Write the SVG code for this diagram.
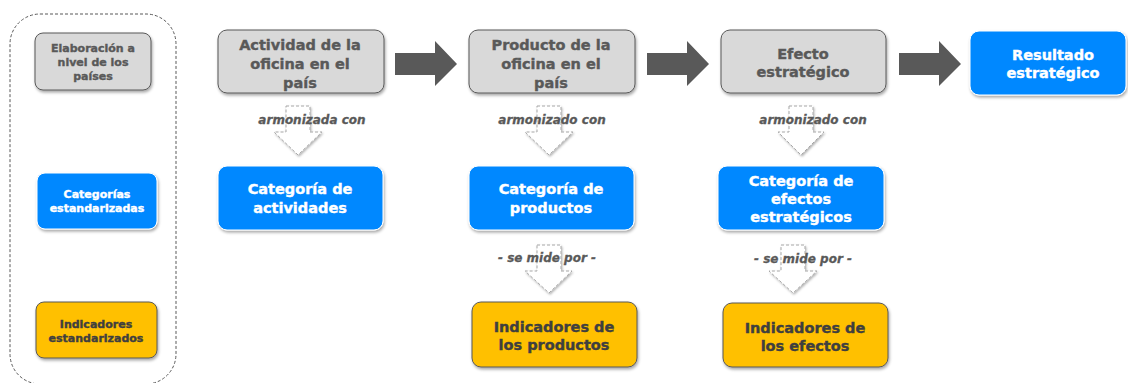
<svg xmlns="http://www.w3.org/2000/svg" width="1128" height="383" viewBox="0 0 1128 383">
<defs>
<filter id="sh" x="-10%" y="-10%" width="130%" height="140%">
<feDropShadow dx="1" dy="2" stdDeviation="1.5" flood-color="#000" flood-opacity="0.35"/>
</filter>
<filter id="sh2" x="-20%" y="-20%" width="150%" height="150%">
<feDropShadow dx="1" dy="1.5" stdDeviation="1" flood-color="#000" flood-opacity="0.3"/>
</filter>
</defs>
<style>
text{font-family:"DejaVu Sans",Verdana,sans-serif;font-weight:bold;text-anchor:middle;stroke-width:0.4}
.gray rect{fill:#d9d9d9;stroke:#595959;stroke-width:1}
.gray text{fill:#595959;stroke:#595959}
.blue rect{fill:#0088ff;stroke:#ffffff;stroke-width:1}
.blue text{fill:#ffffff;stroke:#ffffff}
.yel rect{fill:#ffc000;stroke:#595959;stroke-width:1}
.yel text{fill:#3f3f3f;stroke:#3f3f3f}
.big{font-size:14.5px}
.sm{font-size:11px}
.lbl{font-size:12px;font-style:italic;fill:#595959;stroke:#595959;stroke-width:0.3}
.fat{fill:#595959}
.hol{fill:#ffffff;stroke:#a6a6a6;stroke-width:1;stroke-dasharray:3 2}
</style>
<rect id="legend-frame" x="10" y="14" width="166" height="370" rx="30" fill="none" stroke="#595959" stroke-width="1" stroke-dasharray="3 2"/>

<g id="legend-country" class="gray"><rect x="35" y="33" width="116" height="57" rx="8" filter="url(#sh)"/>
<text class="sm" x="93" y="52">Elaboración a</text><text class="sm" x="93" y="66">nivel de los</text><text class="sm" x="93" y="80">países</text></g>
<g id="legend-cat" class="blue"><rect x="37" y="173" width="120" height="56" rx="8" filter="url(#sh)"/>
<text class="sm" x="97" y="198">Categorías</text><text class="sm" x="97" y="212">estandarizadas</text></g>
<g id="legend-ind" class="yel"><rect x="36" y="302" width="121" height="56" rx="8" filter="url(#sh)"/>
<text class="sm" x="96" y="328">Indicadores</text><text class="sm" x="96" y="342">estandarizados</text></g>

<g id="connectors">
<path class="fat" d="M395 53 H435 V41 L457 64 L435 86 V75 H395 Z"/>
<path class="fat" d="M647 53 H687 V41 L709 64 L687 86 V75 H647 Z"/>
<path class="fat" d="M899 53 H939 V41 L961 64 L939 86 V75 H899 Z"/>
<path class="hol" filter="url(#sh2)" d="M286 106 H310 V132 H322 L298 155 L274 132 H286 Z"/>
<path class="hol" filter="url(#sh2)" d="M537 106 H561 V132 H573 L549 155 L525 132 H537 Z"/>
<path class="hol" filter="url(#sh2)" d="M789 106 H813 V132 H824 L801 155 L778 132 H789 Z"/>
<path class="hol" filter="url(#sh2)" d="M537 245 H561 V271 H572 L549 293 L525 271 H537 Z"/>
<path class="hol" filter="url(#sh2)" d="M781 245 H805 V271 H817 L793 293 L769 271 H781 Z"/>
<text class="lbl" x="312" y="124">armonizada con</text>
<text class="lbl" x="552" y="124">armonizado con</text>
<text class="lbl" x="813" y="124">armonizado con</text>
<text class="lbl" x="547" y="262">- se mide por -</text>
<text class="lbl" x="803" y="263">- se mide por -</text>
</g>

<g id="n-actividad" class="gray"><rect x="218" y="30" width="166" height="63" rx="9" filter="url(#sh)"/>
<text class="big" x="300" y="50">Actividad de la</text><text class="big" x="300" y="69">oficina en el</text><text class="big" x="300" y="88">país</text></g>
<g id="n-producto" class="gray"><rect x="469" y="30" width="166" height="63" rx="9" filter="url(#sh)"/>
<text class="big" x="551" y="50">Producto de la</text><text class="big" x="551" y="69">oficina en el</text><text class="big" x="551" y="88">país</text></g>
<g id="n-efecto" class="gray"><rect x="721" y="30" width="165" height="63" rx="9" filter="url(#sh)"/>
<text class="big" x="803" y="59">Efecto</text><text class="big" x="803" y="77">estratégico</text></g>
<g id="n-resultado" class="blue"><rect x="970" y="31" width="156" height="64" rx="9" filter="url(#sh)"/>
<text class="big" x="1053" y="60">Resultado</text><text class="big" x="1053" y="78">estratégico</text></g>

<g id="n-cat-act" class="blue"><rect x="218" y="166" width="165" height="64" rx="9" filter="url(#sh)"/>
<text class="big" x="300" y="194">Categoría de</text><text class="big" x="300" y="213">actividades</text></g>
<g id="n-cat-prod" class="blue"><rect x="469" y="166" width="165" height="64" rx="9" filter="url(#sh)"/>
<text class="big" x="551" y="194">Categoría de</text><text class="big" x="551" y="213">productos</text></g>
<g id="n-cat-ef" class="blue"><rect x="718" y="166" width="166" height="64" rx="9" filter="url(#sh)"/>
<text class="big" x="801" y="186">Categoría de</text><text class="big" x="801" y="204">efectos</text><text class="big" x="801" y="222">estratégicos</text></g>

<g id="n-ind-prod" class="yel"><rect x="472" y="302" width="165" height="65" rx="9" filter="url(#sh)"/>
<text class="big" x="554" y="332">Indicadores de</text><text class="big" x="554" y="350">los productos</text></g>
<g id="n-ind-ef" class="yel"><rect x="723" y="303" width="165" height="64" rx="9" filter="url(#sh)"/>
<text class="big" x="805" y="333">Indicadores de</text><text class="big" x="805" y="351">los efectos</text></g>
</svg>
